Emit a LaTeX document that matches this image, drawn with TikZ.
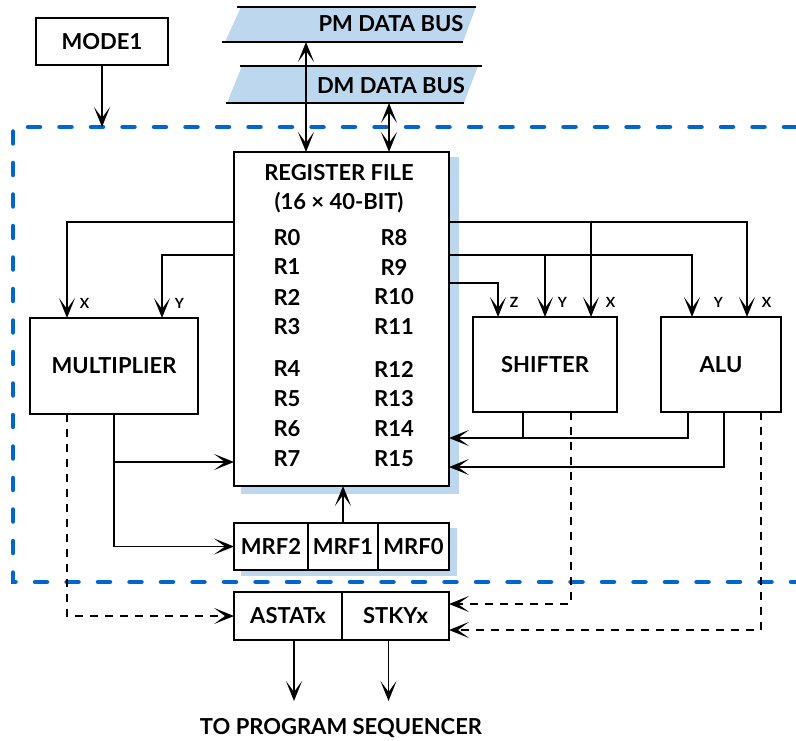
\documentclass[tikz,border=0pt]{standalone}
\usepackage{fontspec}
\setmainfont{Lato}
\usetikzlibrary{arrows.meta,positioning}
\definecolor{busblue}{RGB}{189,215,238}
\definecolor{edgeblue}{RGB}{0,102,204}

\begin{document}
\begin{tikzpicture}[x=1pt,y=-1pt,line width=1.5pt,
    >={Stealth[length=20pt,width=16pt,inset=11pt]},
    every node/.style={font=\fontsize{22}{26}\selectfont\bfseries},
    unit/.style={draw,fill=white,line width=1.8pt,inner sep=0pt,outer sep=0pt},
    portlab/.style={font=\fontsize{14}{16}\selectfont\bfseries,anchor=base west,inner sep=0pt,yshift=10pt},
    signal/.style={dash pattern=on 8pt off 7pt}]
  \useasboundingbox (0,0) rectangle (796,741);
  % shadows and buses
  \fill[busblue] (241,157) rectangle (459,494);
  \fill[busblue] (241,528) rectangle (457,576);
  \fill[busblue] (241,7) -- (476,7) -- (463,42) -- (225,42) -- cycle;
  \draw (237,7) -- (476,7);
  \draw (222,42) -- (463,42);
  \fill[busblue] (242,66) -- (478,66) -- (464,103) -- (227,103) -- cycle;
  \draw (240,66) -- (482,66);
  \draw (226,103) -- (464,103);
  \path (391,24) node (pmbus) {PM DATA BUS}
        (391,86) node (dmbus) {DM DATA BUS};
  \coordinate (pmlow) at (306,42);
  \coordinate (dmlow) at (389,103);
  % register file
  \path (341.5,319) node[unit,minimum width=215pt,minimum height=334pt] (regfile) {}
        (339,173) node (title) {REGISTER FILE}
        (339,203) node (size) {(16 × 40-BIT)};
  \path (287,238) node (r0) {R0}  (394,238) node (r8) {R8}
        (287,267) node (r1) {R1}  (394,267) node (r9) {R9}
        (287,297) node (r2) {R2}  (394,297) node (r10) {R10}
        (287,327) node (r3) {R3}  (394,327) node (r11) {R11}
        (287,369) node (r4) {R4}  (394,369) node (r12) {R12}
        (287,399) node (r5) {R5}  (394,399) node (r13) {R13}
        (287,429) node (r6) {R6}  (394,429) node (r14) {R14}
        (287,459) node (r7) {R7}  (394,459) node (r15) {R15};
  % units
  \path (102,41.5) node[unit,minimum width=132pt,minimum height=47pt] (mode) {MODE1}
        (114,366) node[unit,minimum width=168pt,minimum height=96pt] (mult) {MULTIPLIER}
        (545,364.5) node[unit,minimum width=144pt,minimum height=95pt] (shifter) {SHIFTER}
        (721,364.5) node[unit,minimum width=120pt,minimum height=95pt] (alu) {ALU}
        (271,546.5) node[unit,minimum width=74pt,minimum height=47pt] (mrftwo) {MRF2}
        (288,616) node[unit,minimum width=108pt,minimum height=48pt] (astat) {ASTATx}
        (341,728) node (seq) {TO PROGRAM SEQUENCER};
  \node[unit,minimum width=70pt,minimum height=47pt,right=0pt of mrftwo] (mrfone) {MRF1};
  \node[unit,minimum width=71pt,minimum height=47pt,right=0pt of mrfone] (mrfzero) {MRF0};
  \node[unit,minimum width=107pt,minimum height=48pt,right=0pt of astat] (stky) {STKYx};
  % dashed boundary
  \coordinate (bordertl) at (13,127);
  \coordinate (borderbl) at (13,582);
  \draw[edgeblue,line width=4.5pt,dash pattern=on 12pt off 19.5pt,line cap=round]
    (796,127) -- (bordertl) -- (borderbl) -- (796,582);
  % ports
  \coordinate (mx) at ([xshift=37pt]mult.north west);
  \coordinate (my) at ([xshift=132pt]mult.north west);
  \coordinate (sz) at ([xshift=25pt]shifter.north west);
  \coordinate (sy) at (shifter.north);
  \coordinate (sx) at ([xshift=118pt]shifter.north west);
  \coordinate (ay) at ([xshift=31pt]alu.north west);
  \coordinate (ax) at ([xshift=86pt]alu.north west);
  \coordinate (rl1) at ([yshift=-70pt]regfile.north west);
  \coordinate (rl2) at ([yshift=-103pt]regfile.north west);
  \coordinate (rr1) at ([yshift=-70pt]regfile.north east);
  \coordinate (rr2) at ([yshift=-103pt]regfile.north east);
  \coordinate (rr3) at ([yshift=-131pt]regfile.north east);
  \coordinate (rin1) at ([yshift=48pt]regfile.south east);
  \coordinate (rin2) at ([yshift=19pt]regfile.south east);
  \coordinate (rin3) at ([yshift=24pt]regfile.south west);
  \coordinate (mud) at ([xshift=37pt]mult.south west);
  \coordinate (shs) at ([xshift=50pt]shifter.south west);
  \coordinate (shd) at ([xshift=98pt]shifter.south west);
  \coordinate (als) at ([xshift=27pt]alu.south west);
  \coordinate (alr) at ([xshift=63pt]alu.south west);
  \coordinate (ald) at ([xshift=100pt]alu.south west);
  \coordinate (seqa) at ([xshift=6pt,yshift=-61pt]astat.south);
  \coordinate (seqb) at ([xshift=-7pt,yshift=-61pt]stky.south);
  \path (mx) node[portlab,xshift=12pt] (mxlab) {X}
        (my) node[portlab,xshift=12pt] (mylab) {Y}
        (sz) node[portlab,xshift=11pt] (szlab) {Z}
        (sy) node[portlab,xshift=12pt] (sylab) {Y}
        (sx) node[portlab,xshift=14pt] (sxlab) {X}
        (ay) node[portlab,xshift=21pt] (aylab) {Y}
        (ax) node[portlab,xshift=14pt] (axlab) {X};
  % connections
  \draw[<->] (pmlow) -- (pmlow |- regfile.north);
  \draw[<->] (dmlow) -- (dmlow |- regfile.north);
  \draw[->] (mode.south) -- (mode.south |- bordertl);
  \draw[->] (rl1) -| (mx);
  \draw[->] (rl2) -| (my);
  \draw[->] (rr1) -| (ax);
  \draw[->] (rr1 -| sx) -- (sx);
  \draw[->] (rr2) -| (ay);
  \draw[->] (rr2 -| sy) -- (sy);
  \draw[->] (rr3) -| (sz);
  \draw[->] (mult.south) |- (mrftwo.west);
  \draw[->] (mult.south |- rin3) -- (rin3);
  \draw[->] (mrfone.north) -- (mrfone.north |- regfile.south);
  \draw[->] (als) |- (rin1);
  \draw (shs) -- (shs |- rin1);
  \draw[->] (alr) |- (rin2);
  \draw[signal,->] (mud) |- (astat.west);
  \draw[signal,->] (shd) |- ([yshift=12pt]stky.east);
  \draw[signal,->] (ald) |- ([yshift=-14pt]stky.east);
  \draw[->] ([xshift=6pt]astat.south) -- (seqa);
  \draw[->] ([xshift=-7pt]stky.south) -- (seqb);
\end{tikzpicture}
\end{document}
